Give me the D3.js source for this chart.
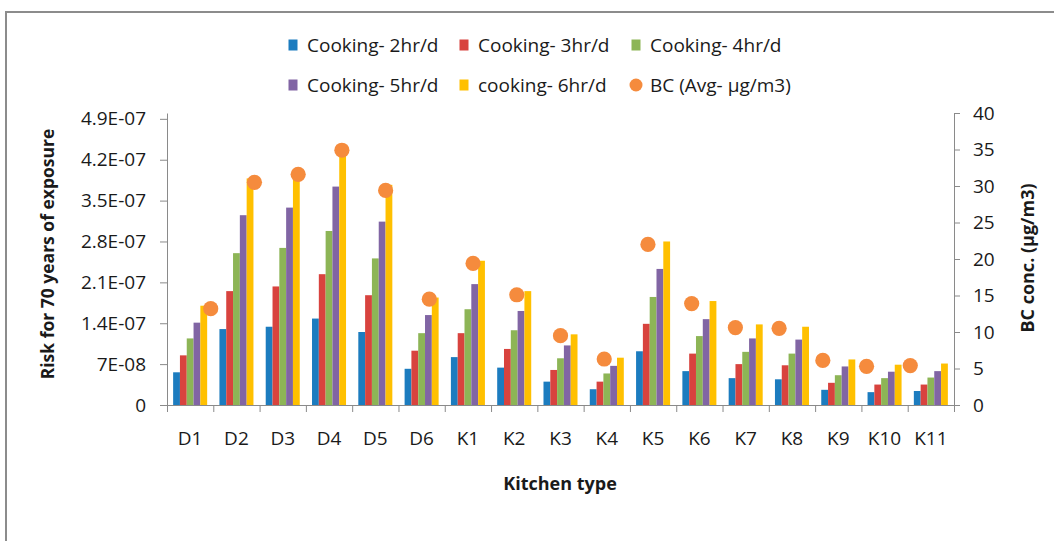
<!DOCTYPE html>
<html><head><meta charset="utf-8">
<script src="https://cdn.jsdelivr.net/npm/d3@7"></script>
<style>body{margin:0;background:#fff}svg{display:block}text{font-family:"Open Sans",sans-serif;fill:#1a1a1a}</style>
</head><body><svg id="c" width="1054" height="541"></svg>
<script>
const categories = ["D1","D2","D3","D4","D5","D6","K1","K2","K3","K4","K5","K6","K7","K8","K9","K10","K11"];
const seriesNames = ["Cooking- 2hr/d","Cooking- 3hr/d","Cooking- 4hr/d","Cooking- 5hr/d","cooking- 6hr/d"];
const cook2 = [5.6e-8,1.30e-7,1.34e-7,1.48e-7,1.25e-7,6.2e-8,8.2e-8,6.4e-8,4.0e-8,2.7e-8,9.2e-8,5.8e-8,4.6e-8,4.4e-8,2.6e-8,2.2e-8,2.4e-8];
const cook3 = [8.5e-8,1.95e-7,2.03e-7,2.24e-7,1.88e-7,9.3e-8,1.23e-7,9.6e-8,6.0e-8,4.0e-8,1.39e-7,8.8e-8,7.0e-8,6.8e-8,3.8e-8,3.5e-8,3.5e-8];
const cook4 = [1.14e-7,2.60e-7,2.69e-7,2.98e-7,2.51e-7,1.23e-7,1.64e-7,1.28e-7,8.0e-8,5.4e-8,1.85e-7,1.18e-7,9.1e-8,8.8e-8,5.1e-8,4.6e-8,4.7e-8];
const cook5 = [1.41e-7,3.25e-7,3.38e-7,3.74e-7,3.14e-7,1.54e-7,2.07e-7,1.61e-7,1.02e-7,6.7e-8,2.33e-7,1.47e-7,1.14e-7,1.12e-7,6.6e-8,5.7e-8,5.8e-8];
const cook6 = [1.70e-7,3.88e-7,4.03e-7,4.47e-7,3.77e-7,1.84e-7,2.47e-7,1.95e-7,1.21e-7,8.1e-8,2.80e-7,1.78e-7,1.38e-7,1.34e-7,7.8e-8,6.9e-8,7.1e-8];
const bcName = "BC (Avg- µg/m3)";
const bc = [13.2,30.5,31.6,34.9,29.4,14.5,19.4,15.1,9.5,6.3,22.0,13.9,10.6,10.5,6.1,5.3,5.4];
const leftTickValues = [0,7e-8,1.4e-7,2.1e-7,2.8e-7,3.5e-7,4.2e-7,4.9e-7];
const leftTickLabels = ["0","7E-08","1.4E-07","2.1E-07","2.8E-07","3.5E-07","4.2E-07","4.9E-07"];
const rightTickValues = [0,5,10,15,20,25,30,35,40];

const colors = ["#1C7CBF","#D8433E","#8DB556","#8165A4","#FFC000"];
const dotColor = "#F58B3D";
const allSeries = [cook2,cook3,cook4,cook5,cook6];

const svg = d3.select("#c");
svg.append("rect").attr("x",6).attr("y",12).attr("width",1100).attr("height",600)
  .attr("fill","#fff").attr("stroke","#8c8c8c").attr("stroke-width",2);

const L=167,R=954,T=113,B=405;
const x0 = d3.scaleBand().domain(categories).range([L,R]).paddingInner(0.265).paddingOuter(0.1325);
const x1 = d3.scaleBand().domain(d3.range(seriesNames.length)).range([0,x0.bandwidth()]);
const yL = d3.scaleLinear().domain([0,5e-7]).range([B,T]);
const yR = d3.scaleLinear().domain([0,40]).range([B,T]);
const xS = d3.scaleLinear().domain([0,categories.length+1]).range([L,R]);

// bars
const g = svg.append("g");
categories.forEach((c,ci)=>{
  allSeries.forEach((s,si)=>{
    g.append("rect").attr("x",x0(c)+x1(si)).attr("y",yL(s[ci]))
      .attr("width",x1.bandwidth()).attr("height",B-yL(s[ci])).attr("fill",colors[si]);
  });
});

const axisColor="#8a8a8a";
const ax = svg.append("g").attr("transform",`translate(${L},0)`)
  .call(d3.axisLeft(yL).tickValues(leftTickValues).tickFormat((d,i)=>leftTickLabels[i]).tickSize(7).tickSizeOuter(0).tickPadding(14));
const axR = svg.append("g").attr("transform",`translate(${R},0)`)
  .call(d3.axisRight(yR).tickValues(rightTickValues).tickSize(6).tickSizeOuter(0).tickPadding(13));
const axB = svg.append("g").attr("transform",`translate(0,${B})`)
  .call(d3.axisBottom(x0).tickSize(0).tickPadding(27));
axB.select(".domain").remove();
const bt = svg.append("g").attr("transform",`translate(0,${B})`)
  .call(d3.axisBottom(d3.scaleLinear().domain([0,categories.length]).range([L,R])).tickValues(d3.range(categories.length+1)).tickSize(7).tickFormat(""));
[ax,axR,bt].forEach(a=>{a.selectAll("path,line").attr("stroke",axisColor);});
svg.selectAll(".tick text").style("font-family","'Open Sans',sans-serif").style("font-size","19px").attr("fill","#1a1a1a");

svg.append("g").selectAll("circle").data(bc).join("circle")
  .attr("cx",(d,i)=>xS(i+1)).attr("cy",d=>yR(d)).attr("r",7.6).attr("fill",dotColor);

svg.append("text").attr("transform","translate(54,254) rotate(-90)").attr("text-anchor","middle")
  .style("font-size","17.5px").style("font-weight","bold").text("Risk for 70 years of exposure");
svg.append("text").attr("transform","translate(1034,258) rotate(-90)").attr("text-anchor","middle")
  .style("font-size","18px").style("font-weight","bold").text("BC conc. (µg/m3)");
svg.append("text").attr("x",560).attr("y",490).attr("text-anchor","middle")
  .style("font-size","18px").style("font-weight","bold").text("Kitchen type");

const legItems = seriesNames.map((n,i)=>({name:n,color:colors[i],type:"rect"})).concat([{name:bcName,color:dotColor,type:"circle"}]);
const legX = [293,464,636], legY=[45,85];
legItems.forEach((it,i)=>{
  const lx = legX[i%3], ly = legY[Math.floor(i/3)];
  if(it.type==="rect") svg.append("rect").attr("x",lx-4.5).attr("y",ly-5.5).attr("width",9).attr("height",11).attr("fill",it.color);
  else svg.append("circle").attr("cx",lx).attr("cy",ly).attr("r",6.5).attr("fill",it.color);
  svg.append("text").attr("x",lx+14).attr("y",ly+6.5).style("font-size","19px").text(it.name);
});
</script></body></html>
